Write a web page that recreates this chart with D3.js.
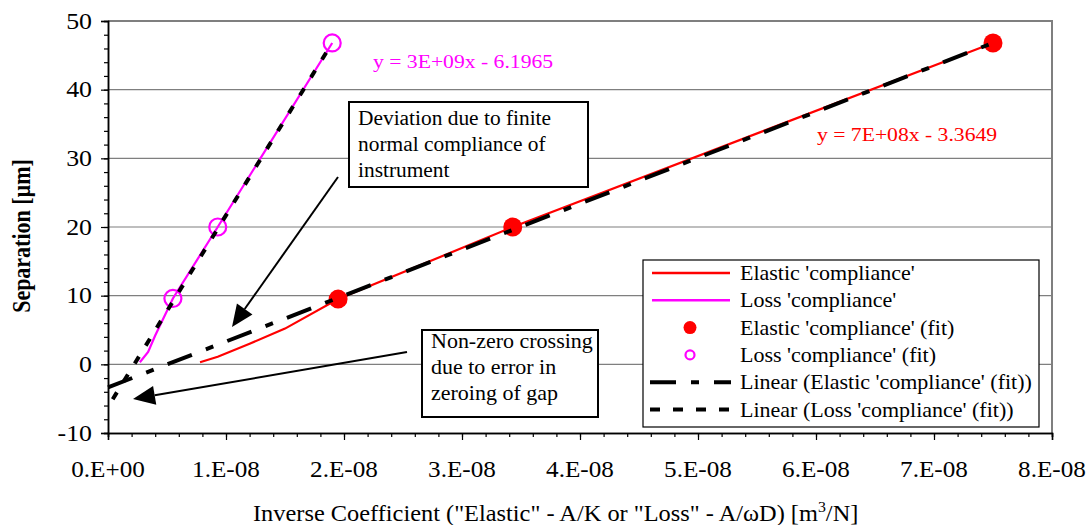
<!DOCTYPE html>
<html>
<head>
<meta charset="utf-8">
<script src="https://cdn.jsdelivr.net/npm/d3@7"></script>
<style>
  html, body { margin: 0; padding: 0; background: #fff; }
  svg { display: block; }
</style>
</head>
<body>
<script>
// ---------------- data ----------------
const elasticCurveX = [0.78e-8, 0.93e-8, 1.2e-8, 1.5e-8, 1.95e-8, 3.43e-8, 7.5e-8];
const elasticCurveY = [0.3, 1.1, 3.0, 5.2, 9.5, 20.0, 46.8];
const lossCurveX = [0.27e-8, 0.34e-8, 0.40e-8, 0.55e-8, 0.93e-8, 1.9e-8];
const lossCurveY = [0.3, 1.8, 4.2, 9.6, 20.0, 46.8];
const elasticFitX = [1.95e-8, 3.43e-8, 7.5e-8];
const elasticFitY = [9.5, 20.0, 46.8];
const lossFitX = [0.55e-8, 0.93e-8, 1.9e-8];
const lossFitY = [9.6, 20.0, 46.8];
const elasticTrend = { slope: 6.69e8, intercept: -3.3649, xFrom: 0, xTo: 7.5e-8 };
const lossTrend = { slope: 2.79e9, intercept: -6.1965, xFrom: 0.04e-8, xTo: 1.9e-8 };
const xTickValues = [0, 1e-8, 2e-8, 3e-8, 4e-8, 5e-8, 6e-8, 7e-8, 8e-8];
const xTickLabels = ["0.E+00", "1.E-08", "2.E-08", "3.E-08", "4.E-08", "5.E-08", "6.E-08", "7.E-08", "8.E-08"];
const yTickValues = [-10, 0, 10, 20, 30, 40, 50];
const yTickLabels = ["-10", "0", "10", "20", "30", "40", "50"];
const legendLabels = ["Elastic 'compliance'", "Loss 'compliance'", "Elastic 'compliance' (fit)",
  "Loss 'compliance' (fit)", "Linear (Elastic 'compliance' (fit))", "Linear (Loss 'compliance' (fit))"];
const elasticEqText = "y = 7E+08x - 3.3649";
const lossEqText = "y = 3E+09x - 6.1965";
const note1Lines = ["Deviation due to finite", "normal compliance of", "instrument"];
const note2Lines = ["Non-zero crossing", "due to error in", "zeroing of gap"];

// ---------------- setup ----------------
const W = 1090, H = 525;
const FONT = "'Liberation Serif', 'Times New Roman', Times, serif";
const svg = d3.select("body").append("svg").attr("width", W).attr("height", H)
  .attr("font-family", FONT);
const x = d3.scaleLinear().domain([0, 8e-8]).range([108, 1052]);
const y = d3.scaleLinear().domain([-10, 50]).range([433, 21]);
const RED = "#ff0000", MAG = "#ff00ff", GRID = "#7f7f7f";

function stext(g, str, tx, ty, size, anchor, color, sx) {
  return g.append("text")
    .attr("transform", `translate(${tx},${ty}) scale(${sx || 1.1},1)`)
    .attr("font-family", FONT)
    .attr("font-size", size)
    .attr("text-anchor", anchor || "start")
    .attr("fill", color || "#000")
    .text(str);
}

// gridlines
svg.append("g").selectAll("line").data(yTickValues.filter(v => v > -10 && v < 50)).join("line")
  .attr("x1", x(0)).attr("x2", x(8e-8)).attr("y1", d => y(d)).attr("y2", d => y(d))
  .attr("stroke", GRID).attr("stroke-width", 1.2);
// plot border top/right
svg.append("path")
  .attr("d", `M${x(0)},${y(50)}H${x(8e-8)}V${y(-10)}`)
  .attr("fill", "none").attr("stroke", GRID).attr("stroke-width", 2);

// axes
const xMinor = d3.range(0, 41).map(i => i * 0.2e-8);
const yMinor = d3.range(-10, 51, 2);
const axX = svg.append("g").attr("transform", `translate(0,${y(-10)})`);
axX.call(d3.axisBottom(x).tickValues(xMinor).tickSize(4).tickFormat(""));
axX.append("g").call(d3.axisBottom(x).tickValues(xTickValues).tickSize(7).tickFormat(""));
axX.selectAll("path.domain").attr("stroke", "#000").attr("stroke-width", 1.5);
axX.selectAll("line").attr("stroke", "#000").attr("stroke-width", 1.2);
const axY = svg.append("g").attr("transform", `translate(${x(0)},0)`);
axY.call(d3.axisLeft(y).tickValues(yMinor).tickSize(4).tickFormat(""));
axY.append("g").call(d3.axisLeft(y).tickValues(yTickValues).tickSize(7).tickFormat(""));
axY.selectAll("path.domain").attr("stroke", "#000").attr("stroke-width", 1.5);
axY.selectAll("line").attr("stroke", "#000").attr("stroke-width", 1.2);

// tick labels
const labels = svg.append("g");
xTickValues.forEach((v, i) => stext(labels, xTickLabels[i], x(v), 477, 22.5, "middle", "#000", 1.12));
yTickValues.forEach((v, i) => stext(labels, yTickLabels[i], 92, y(v) + 7.5, 22.5, "end", "#000", 1.15));

// axis titles
stext(svg, "Inverse Coefficient (\"Elastic\" - A/K or \"Loss\" - A/\u03C9D) [m", 253, 521, 23, "start", "#000", 1.06)
  .call(t => { t.append("tspan").attr("dy", -9).attr("font-size", 15).text("3");
               t.append("tspan").attr("dy", 9).text("/N]"); });
svg.append("text")
  .attr("transform", `translate(30,236) rotate(-90) scale(1,1.15)`)
  .attr("font-family", FONT)
  .attr("font-size", 22).attr("font-weight", "bold").attr("text-anchor", "middle")
  .text("Separation [\u00B5m]");

// series lines
const line = d3.line().x(d => x(d[0])).y(d => y(d[1]));
svg.append("path").datum(d3.zip(elasticCurveX, elasticCurveY)).attr("d", line)
  .attr("fill", "none").attr("stroke", RED).attr("stroke-width", 2.2);
svg.append("path").datum(d3.zip(lossCurveX, lossCurveY)).attr("d", line)
  .attr("fill", "none").attr("stroke", MAG).attr("stroke-width", 2.2);

// fit markers
svg.append("g").selectAll("circle").data(d3.zip(elasticFitX, elasticFitY)).join("circle")
  .attr("cx", d => x(d[0])).attr("cy", d => y(d[1])).attr("r", 9.5).attr("fill", RED);
svg.append("g").selectAll("circle").data(d3.zip(lossFitX, lossFitY)).join("circle")
  .attr("cx", d => x(d[0])).attr("cy", d => y(d[1])).attr("r", 8.5)
  .attr("fill", "none").attr("stroke", MAG).attr("stroke-width", 2.2);

// trendlines
const trendPts = t => [[t.xFrom, t.intercept + t.slope * t.xFrom], [t.xTo, t.intercept + t.slope * t.xTo]];
const DASH_E = "26,15,8,15", DASH_L = "8,13";
svg.append("path").datum(trendPts(elasticTrend)).attr("d", line)
  .attr("fill", "none").attr("stroke", "#000").attr("stroke-width", 4).attr("stroke-dasharray", DASH_E);
svg.append("path").datum(trendPts(lossTrend)).attr("d", line)
  .attr("fill", "none").attr("stroke", "#000").attr("stroke-width", 4).attr("stroke-dasharray", DASH_L);

// equations
stext(svg, lossEqText, 373, 68, 19.7, "start", MAG);
stext(svg, elasticEqText, 817, 141, 19.7, "start", RED);

// annotation boxes
function note(lines, bx, by, bw, bh, tx, ty0, sx) {
  const g = svg.append("g");
  g.append("rect").attr("x", bx).attr("y", by).attr("width", bw).attr("height", bh)
    .attr("fill", "#fff").attr("stroke", "#000").attr("stroke-width", 2);
  lines.forEach((s, i) => stext(g, s, tx, ty0 + i * 26, 20, "start", "#000", sx));
}
note(note1Lines, 349, 102, 239, 85, 358, 125, 1.07);
note(note2Lines, 422, 330, 176, 87, 431, 348, 1.1);

// arrows
function arrow(x1, y1, x2, y2) {
  const g = svg.append("g");
  const ang = Math.atan2(y2 - y1, x2 - x1);
  const L = 22, Wd = 9.5;
  const bx = x2 - L * Math.cos(ang), by = y2 - L * Math.sin(ang);
  g.append("line").attr("x1", x1).attr("y1", y1).attr("x2", bx).attr("y2", by)
    .attr("stroke", "#000").attr("stroke-width", 2);
  g.append("path")
    .attr("d", `M${x2},${y2}L${bx + Wd * Math.sin(ang)},${by - Wd * Math.cos(ang)}L${bx - Wd * Math.sin(ang)},${by + Wd * Math.cos(ang)}Z`)
    .attr("fill", "#000");
}
arrow(338, 177, 232, 327);
arrow(407, 352, 133, 399);

// legend
const lg = svg.append("g");
lg.append("rect").attr("x", 643).attr("y", 260).attr("width", 396).attr("height", 167)
  .attr("fill", "#fff").attr("stroke", "#000").attr("stroke-width", 1.2);
legendLabels.forEach((s, i) => {
  const cy = 273 + i * 27.3;
  if (i === 0 || i === 1) {
    lg.append("line").attr("x1", 652).attr("x2", 730).attr("y1", cy).attr("y2", cy)
      .attr("stroke", i === 0 ? RED : MAG).attr("stroke-width", 2.5);
  } else if (i === 2) {
    lg.append("circle").attr("cx", 690).attr("cy", cy).attr("r", 6.5).attr("fill", RED);
  } else if (i === 3) {
    lg.append("circle").attr("cx", 690).attr("cy", cy).attr("r", 4.5)
      .attr("fill", "none").attr("stroke", MAG).attr("stroke-width", 2.2);
  } else {
    lg.append("line").attr("x1", 650).attr("x2", 731).attr("y1", cy).attr("y2", cy)
      .attr("stroke", "#000").attr("stroke-width", 4)
      .attr("stroke-dasharray", i === 4 ? DASH_E : "10,13");
  }
  stext(lg, s, 740, cy + 7, 20, "start");
});
</script>
</body>
</html>
